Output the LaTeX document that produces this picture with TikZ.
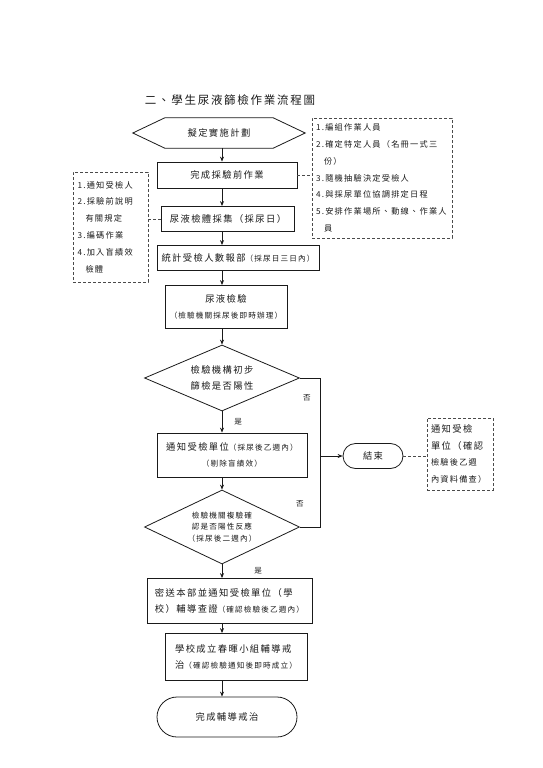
\documentclass[tikz,border=0pt]{standalone}
\usepackage{fontspec}
\setmainfont{Noto Sans CJK TC}[LetterSpace=15]
\usetikzlibrary{arrows.meta, positioning, shapes.geometric, shapes.misc}
\definecolor{color_line}{HTML}{1A1A1A}
\definecolor{color_text}{HTML}{1A1A1A}
\definecolor{color_note}{HTML}{4A4A4A}
\newcommand{\boxsize}{\fontsize{9.3}{16}\selectfont}
\newcommand{\smallsize}{\fontsize{7.6}{16}\selectfont}
\newcommand{\notesize}{\fontsize{8.2}{16.8}\selectfont}
\newcommand{\diasize}{\fontsize{7.6}{11.5}\selectfont}
\tikzset{
  title_label/.style={font=\fontsize{11.5}{14}\selectfont, text=color_text},
  flow_hex/.style={font=\boxsize, text=color_text, inner sep=0pt},
  flow_edge/.style={draw=color_line, line width=0.8pt},
  flow_box/.style={draw=color_line, line width=0.8pt, align=center, inner sep=0pt, font=\boxsize, text=color_text},
  flow_round/.style={rounded rectangle, draw=color_line, line width=0.8pt, inner sep=0pt, font=\boxsize, text=color_text},
  flow_decision/.style={diamond, aspect=2.2, draw=color_line, line width=0.8pt, align=center, inner sep=0pt, font=\boxsize, text=color_text},
  flow_note/.style={draw=color_note, line width=0.6pt, densely dashed, align=left, inner sep=0pt, font=\notesize, text=color_text},
  note_link/.style={draw=color_note, line width=0.6pt, densely dashed},
  flow_line/.style={draw=color_line, line width=0.7pt},
  flow_arrow/.style={-{Stealth[length=5pt, width=4pt]}, draw=color_line, line width=0.7pt},
  branch_label/.style={font=\smallsize, text=color_text, inner sep=0pt},
}
\begin{document}
\begin{tikzpicture}[x=1pt, y=-1pt]
    \useasboundingbox (0,0) rectangle (543,768);
    \coordinate (axis) at (222,0);
    \coordinate (merge) at (320,456);

    \node[title_label] (title) at (230,100) {二、學生尿液篩檢作業流程圖};

    % main column
    \node[flow_hex, minimum width=172pt, minimum height=30pt] (plan) at (219,133) {擬定實施計劃};
    \draw[flow_edge] (plan.west) -- ([xshift=32pt]plan.north west) -- ([xshift=-32pt]plan.north east)
      -- (plan.east) -- ([xshift=-32pt]plan.south east) -- ([xshift=32pt]plan.south west) -- cycle;
    \node[flow_box, minimum width=140pt, minimum height=26pt] (prep) at (227,175) {完成採驗前作業};
    \node[flow_box, minimum width=133pt, minimum height=25pt] (collect) at (228,219) {尿液檢體採集（採尿日）};
    \node[flow_box, minimum width=162pt, minimum height=25pt] (report) at (238,258) {統計受檢人數報部{\smallsize（採尿日三日內）}};
    \node[flow_box, minimum width=122pt, minimum height=43pt] (test) at (226,307) {尿液檢驗\\{\smallsize（檢驗機關採尿後即時辦理）}};
    \node[flow_decision, minimum width=155pt, minimum height=66pt] (screen) at (222,378) {檢驗機構初步\\篩檢是否陽性};
    \node[flow_box, minimum width=150pt, minimum height=44pt] (notify) at (232,455) {通知受檢單位{\smallsize（採尿後乙週內）}\\{\smallsize（剔除盲績效）}};
    \node[flow_decision, minimum width=155pt, minimum height=74pt, font=\diasize] (recheck) at (222,527) {檢驗機關複驗確\\認是否陽性反應\\（採尿後二週內）};
    \node[flow_box, align=left, minimum width=165pt, minimum height=45pt] (verify) at (229.5,601) {密送本部並通知受檢單位（學\\校）輔導查證{\smallsize（確認檢驗後乙週內）}};
    \node[flow_box, align=left, minimum width=142pt, minimum height=47pt] (team) at (236,657) {學校成立春暉小組輔導戒\\治{\smallsize（確認檢驗通知後即時成立）}};
    \node[flow_round, minimum width=140pt, minimum height=40pt] (done) at (227,717) {完成輔導戒治};
    \node[flow_round, minimum width=60pt, minimum height=25pt] (stop) at (373,456) {結束};

    % side notes
    \node[flow_note, minimum width=140pt, minimum height=120pt, text width=132pt] (note_plan) at (382,178)
      {1.編組作業人員\\2.確定特定人員（名冊一式三\\\hspace*{8pt}份）\\3.隨機抽驗決定受檢人\\4.與採尿單位協調排定日程\\5.安排作業場所、動線、作業人\\\hspace*{8pt}員};
    \node[flow_note, minimum width=75pt, minimum height=110pt, text width=66pt] (note_collect) at (110.5,227)
      {1.通知受檢人\\2.採驗前說明\\\hspace*{8pt}有關規定\\3.編碼作業\\4.加入盲績效\\\hspace*{8pt}檢體};
    \node[flow_note, minimum width=66pt, minimum height=72pt, text width=58pt] (note_stop) at (460,454)
      {{\boxsize 通知受檢}\\{\boxsize 單位（確認}\\檢驗後乙週\\內資料備查）};

    % arrows
    \draw[flow_arrow] (plan.south -| axis) -- (prep.north -| axis);
    \draw[flow_arrow] (prep.south -| axis) -- (collect.north -| axis);
    \draw[flow_arrow] (collect.south -| axis) -- (report.north -| axis);
    \draw[flow_arrow] (report.south -| axis) -- (test.north -| axis);
    \draw[flow_arrow] (test.south -| axis) -- (screen.north);
    \draw[flow_arrow] (screen.south) -- (notify.north -| axis) node[midway, right=12pt, branch_label] {是};
    \draw[flow_arrow] (notify.south -| axis) -- (recheck.north);
    \draw[flow_arrow] (recheck.south) -- (verify.north -| axis) node[midway, right=32pt, branch_label] {是};
    \draw[flow_arrow] (verify.south -| axis) -- (team.north -| axis);
    \draw[flow_arrow] (team.south -| axis) -- (done.north -| axis);

    % negative branches
    \draw[flow_line] (screen.east) -| (merge) node[pos=0.63, left=9pt, branch_label] {否};
    \draw[flow_line] (recheck.east) -| (merge) node[pos=0.66, left=16pt, branch_label] {否};
    \draw[flow_arrow] (merge) -- (stop.west);

    % note links
    \draw[note_link] (prep.east) -- (prep.east -| note_plan.west);
    \draw[note_link] (collect.west -| note_collect.east) -- (collect.west);
    \draw[note_link] (stop.east) -- (stop.east -| note_stop.west);
\end{tikzpicture}
\end{document}
